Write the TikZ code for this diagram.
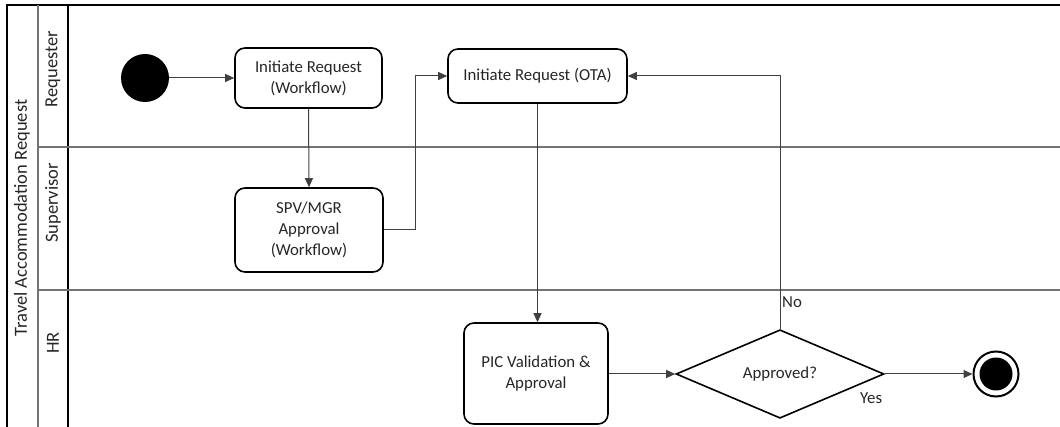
\documentclass[tikz,border=0pt]{standalone}
\usepackage{fontspec}
\setmainfont{Carlito}
\usetikzlibrary{arrows.meta,shapes.geometric}
\begin{document}
\begin{tikzpicture}[x=1pt,y=-1pt,
  every node/.style={font=\fontsize{16.8}{21}\selectfont, text=black!85},
  activity/.style={draw=black, line width=1.6pt, rounded corners=10pt, align=center, inner sep=0pt},
  decision/.style={draw=black, line width=1.6pt, diamond, inner sep=0pt, minimum width=208pt, minimum height=74pt},
  flow/.style={draw=black!75, line width=1pt, -{Triangle[length=9pt,width=8pt]}},
  lanelabel/.style={rotate=90, font=\fontsize{18.5}{21}\selectfont, text=black!85},
  sep/.style={draw=black!55, line width=1.6pt},
  frame/.style={draw=black, line width=1.2pt}
]
\useasboundingbox (0,0) rectangle (1060,427);
% pool frame
\draw[frame] (7,427) -- (7,5) -- (1060,5);
\draw[sep] (38,5) -- (38,427);
\draw[frame] (68,5) -- (68,427);
\draw[sep] (38,147) -- (1060,147);
\draw[sep] (38,290) -- (1060,290);
% labels
\node[lanelabel] (pool) at (22,218) {Travel Accommodation Request};
\node[lanelabel] (l1) at (53,69) {Requester};
\node[lanelabel] (l2) at (53,203) {Supervisor};
\node[lanelabel] (l3) at (53,343) {HR};
% nodes
\node[circle, fill=black, minimum size=48pt, inner sep=0pt] (start) at (145,78) {};
\node[activity, minimum width=147pt, minimum height=60pt] (irw) at (308.5,78) {Initiate Request\\(Workflow)};
\node[activity, minimum width=148pt, minimum height=84pt] (spv) at (309,230) {SPV/MGR\\Approval\\(Workflow)};
\node[activity, minimum width=179pt, minimum height=54pt] (ota) at (537.5,76) {Initiate Request (OTA)};
\node[activity, minimum width=144pt, minimum height=101pt] (pic) at (536,373.5) {PIC Validation \&\\Approval};
\node[decision] (dec) at (780,374) {Approved?};
\node[circle, draw=black, line width=2pt, minimum size=45pt, inner sep=0pt] (end) at (996,374) {};
\node[circle, fill=black, minimum size=33pt, inner sep=0pt] (endin) at (end.center) {};
% connectors
\coordinate (j1) at (415,230);
\draw[flow] (start) -- (irw);
\draw[flow] (irw.south) -- (spv.north);
\draw[flow] (spv.east) -- (j1) |- (ota.west);
\draw[flow] (ota.south) -- (ota.south |- pic.north);
\draw[flow] (pic.east |- dec.west) -- (dec.west);
\draw[flow] (dec.north) |- (ota.east);
\draw[flow] (dec.east) -- (end.west);
\node[anchor=west, inner sep=0pt] (no) at (782,302) {No};
\node[anchor=west, inner sep=0pt] (yes) at (860,398) {Yes};
\end{tikzpicture}
\end{document}
